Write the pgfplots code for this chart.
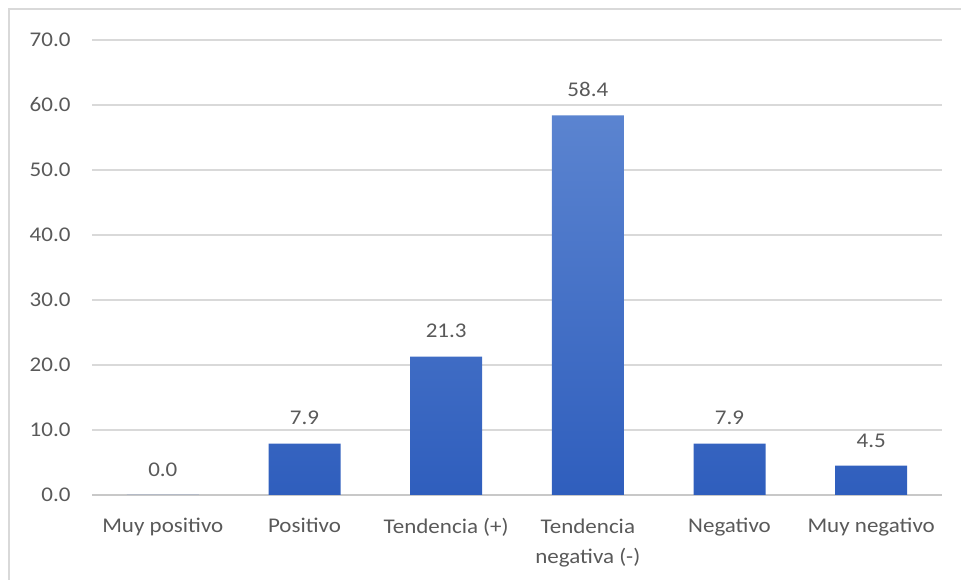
\documentclass[border=0pt]{standalone}
\usepackage{fontspec}
\setmainfont[FakeStretch=1.1]{Carlito}
\usepackage{pgfplots}
\pgfplotsset{compat=1.18}
\definecolor{txtgray}{HTML}{595959}
\definecolor{gridgray}{HTML}{D9D9D9}
\definecolor{axisgray}{HTML}{C8C8C8}
\definecolor{bartop}{HTML}{5B84D0}
\definecolor{barbot}{HTML}{2F5EBD}

\begin{document}
\begin{tikzpicture}[x=1bp,y=1bp]
\path[use as bounding box] (0,0) rectangle (961,580);
\draw[gridgray, line width=2.5bp] (9,-5) -- (9,571) -- (970,571);
\begin{axis}[
    at={(92bp,85bp)}, anchor=south west,
    scale only axis,
    width=850bp, height=455bp,
    xmin=-0.5, xmax=5.5,
    ymin=0, ymax=70,
    ytick={0,10,...,70},
    xtick={0,...,5},
    xticklabels={Muy positivo, Positivo, Tendencia (+), {Tendencia\\negativa (-)}, Negativo, Muy negativo},
    xticklabel style={align=center, font=\fontsize{21}{31}\selectfont, text=txtgray, yshift=-20bp},
    yticklabel style={font=\fontsize{21}{24}\selectfont, text=txtgray, xshift=-18bp},
    /pgf/number format/.cd, fixed, fixed zerofill, precision=1, assume math mode=true,
    /pgfplots/.cd,
    ymajorgrids, grid style={gridgray, line width=1.2bp},
    axis line style={draw=none},
    major tick length=0pt,
    extra y ticks={0}, extra y tick labels={},
    extra y tick style={grid style={axisgray, line width=1.5bp}},
    ybar, bar width=72bp,
    nodes near coords,
    every node near coord/.append style={font=\fontsize{21}{24}\selectfont, text=txtgray, yshift=15bp},
    clip=false,
]
\addplot[draw=none, top color=bartop, bottom color=barbot, shading=axis] coordinates {
    (0,0.0) (1,7.9) (2,21.3) (3,58.4) (4,7.9) (5,4.5)
};
\end{axis}
\end{tikzpicture}
\end{document}
